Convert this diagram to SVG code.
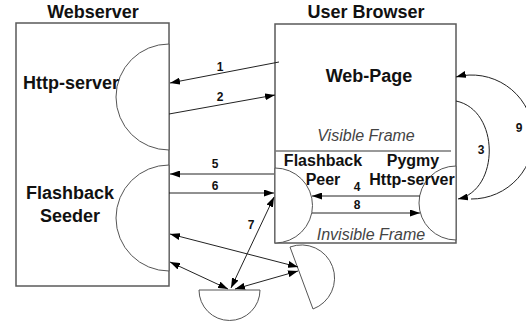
<svg xmlns="http://www.w3.org/2000/svg" width="526" height="322" viewBox="0 0 526 322">
  <style>
    .box { fill: #fff; stroke: #5a5a5a; stroke-width: 1.5; }
    .half { fill: #fff; stroke: #555; stroke-width: 1; }
    .sep { stroke: #777; stroke-width: 1.5; }
    .title { font-family: "Liberation Sans", Arial, sans-serif; font-weight: bold; font-size: 18px; fill: #111; text-anchor: middle; }
    .name { font-family: "Liberation Sans", Arial, sans-serif; font-weight: bold; font-size: 18px; fill: #111; text-anchor: middle; }
    .small { font-family: "Liberation Sans", Arial, sans-serif; font-weight: bold; font-size: 16px; fill: #111; text-anchor: middle; }
    .frame { font-family: "Liberation Sans", Arial, sans-serif; font-style: italic; font-size: 16px; fill: #444; text-anchor: middle; }
    .num { font-family: "Liberation Sans", Arial, sans-serif; font-weight: bold; font-size: 12px; fill: #111; text-anchor: middle; }
    .link { fill: none; stroke: #222; stroke-width: 1; }
  </style>
  <defs>
    <marker id="head" viewBox="0 0 10 7" refX="10" refY="3.5" markerWidth="10" markerHeight="7" markerUnits="userSpaceOnUse" orient="auto-start-reverse">
      <path d="M0,0 L10,3.5 L0,7 Z" fill="#000"/>
    </marker>
  </defs>

  <!-- Webserver -->
  <g id="webserver">
    <text class="title" x="93" y="18">Webserver</text>
    <rect class="box" x="16" y="23" width="153" height="263"/>
  </g>
  <g id="http-server">
    <path class="half" d="M169,44 A53,53 0 0 0 169,150 Z"/>
    <text class="name" x="71" y="89">Http-server</text>
  </g>
  <g id="flashback-seeder">
    <path class="half" d="M169,165 A53,53 0 0 0 169,271 Z"/>
    <text class="name" x="70" y="199">Flashback</text>
    <text class="name" x="70" y="222">Seeder</text>
  </g>

  <!-- User Browser -->
  <g id="user-browser">
    <text class="title" x="366" y="18">User Browser</text>
    <rect class="box" x="275" y="24" width="181" height="219"/>
    <line class="sep" x1="275" y1="151" x2="451" y2="151"/>
    <text class="frame" x="366" y="141">Visible Frame</text>
    <text class="frame" x="371" y="240">Invisible Frame</text>
  </g>
  <g id="web-page">
    <text class="name" x="369" y="82">Web-Page</text>
  </g>
  <g id="flashback-peer">
    <path class="half" d="M275,168 A37.5,37.5 0 0 1 275,243 Z"/>
    <text class="small" x="323" y="166">Flashback</text>
    <text class="small" x="323" y="185">Peer</text>
  </g>
  <g id="pygmy-http-server">
    <path class="half" d="M456,166 A37,37 0 0 0 456,240 Z"/>
    <text class="small" x="413" y="166">Pygmy</text>
    <text class="small" x="412" y="185">Http-server</text>
  </g>

  <!-- remote peers -->
  <g id="peer-bottom">
    <path class="half" d="M199,290 L260,290 A30.5,30.5 0 0 1 199,290 Z"/>
  </g>
  <g id="peer-right">
    <path class="half" d="M290,247 A33,33 0 0 1 313,309 Z"/>
  </g>

  <!-- Connectors -->
  <g id="connectors">
    <path class="link" d="M279,62 L170,83" marker-end="url(#head)"/>
    <text class="num" x="220" y="71">1</text>
    <path class="link" d="M169,114 L275,95" marker-end="url(#head)"/>
    <text class="num" x="220" y="101">2</text>

    <path class="link" d="M456,101 C500,110 500,190 458,199" marker-end="url(#head)"/>
    <text class="num" x="481" y="154">3</text>
    <path class="link" d="M471,199 A62,62 0 1 0 456,77" marker-end="url(#head)"/>
    <text class="num" x="519" y="132">9</text>

    <path class="link" d="M420,196 L312,196" marker-end="url(#head)"/>
    <text class="num" x="357" y="191">4</text>
    <path class="link" d="M312,213 L420,213" marker-end="url(#head)"/>
    <text class="num" x="357" y="209">8</text>

    <path class="link" d="M274,174 L170,174" marker-end="url(#head)"/>
    <text class="num" x="215" y="168">5</text>
    <path class="link" d="M169,193 L274,193" marker-end="url(#head)"/>
    <text class="num" x="215" y="190">6</text>

    <path class="link" d="M231,288 L274,197" marker-start="url(#head)" marker-end="url(#head)"/>
    <text class="num" x="251" y="229">7</text>

    <path class="link" d="M170,234 L298,267" marker-start="url(#head)" marker-end="url(#head)"/>
    <path class="link" d="M170,262 L228,289" marker-start="url(#head)" marker-end="url(#head)"/>
    <path class="link" d="M235,289 L298,271" marker-start="url(#head)" marker-end="url(#head)"/>
  </g>
</svg>
